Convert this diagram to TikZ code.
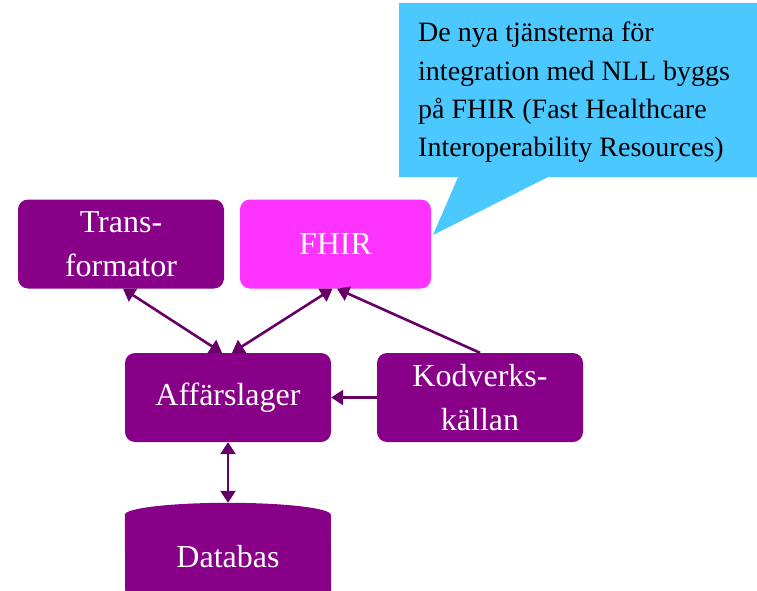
\documentclass[tikz,border=0pt]{standalone}
\usepackage{fontspec}
\setmainfont{Liberation Serif}
\usetikzlibrary{arrows.meta,calc}
\definecolor{boxpurple}{HTML}{880088}
\definecolor{fhirpink}{HTML}{FF33FF}
\definecolor{arrowpurple}{HTML}{660066}
\definecolor{calloutblue}{HTML}{4AC8FF}
\begin{document}
\begin{tikzpicture}[x=1pt,y=-1pt,
  box/.style={rectangle, rounded corners=10pt, fill=boxpurple, text=white,
    minimum width=206pt, minimum height=89pt, inner sep=0pt, align=center,
    font=\fontsize{32}{44}\selectfont},
  conn/.style={draw=arrowpurple, line width=2.6pt,
    {Triangle[length=12pt,width=15pt]}-{Triangle[length=12pt,width=15pt]}},
  oneway/.style={draw=arrowpurple, line width=2.6pt, -{Triangle[length=12pt,width=15pt]}}
]
\useasboundingbox (0,0) rectangle (757,591);
% callout
\fill[calloutblue] (399,3) -- (757,3) -- (757,177) -- (548,177) -- (433,235) -- (458,177) -- (399,177) -- cycle;
\node[anchor=base west, inner sep=0pt, align=left, font=\fontsize{28}{38.5}\selectfont, text=black]
  (callout) at (418,157) {De nya tjänsterna för\\integration med NLL byggs\\på FHIR (Fast Healthcare\\Interoperability Resources)};
% boxes
\node[box] (trans) at (121,244) {Trans-\\formator};
\node[box, fill=fhirpink, minimum width=191pt] (fhir) at (335.5,244) {FHIR};
\node[box] (aff) at (228,397.5) {Affärslager};
\node[box] (kod) at (480,397.5) {Kodverks-\\källan};
% database cylinder
\node[rectangle, minimum width=206pt, minimum height=99pt, inner sep=0pt] (db) at (228,552.5) {};
\fill[boxpurple] (db.north west) ++(0,12) arc[start angle=180, end angle=0, x radius=103pt, y radius=12pt]
  -- ($(db.south east)+(0,-12)$) arc[start angle=0, end angle=-180, x radius=103pt, y radius=12pt] -- cycle;
\node[text=white, font=\fontsize{32}{44}\selectfont, anchor=base] (dbtext) at (228,567) {Databas};
% connectors
\draw[conn] ([xshift=2pt]trans.south) -- ([xshift=-6pt]aff.north);
\draw[conn] ([xshift=-3pt]fhir.south) -- ([xshift=4pt]aff.north);
\draw[oneway] (kod.north) -- ([xshift=1.5pt]fhir.south);
\draw[oneway] (kod.west) -- (aff.east);
\draw[conn] (aff.south) -- (db.north);
\end{tikzpicture}
\end{document}
